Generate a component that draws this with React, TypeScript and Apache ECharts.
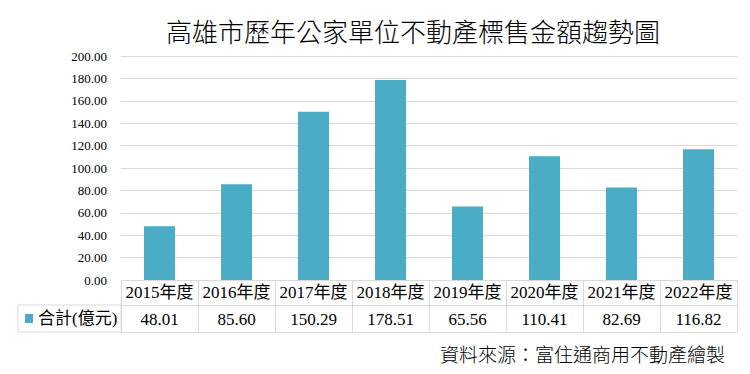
import React, { useEffect, useRef } from "react";
import * as echarts from "echarts";

const title = "高雄市歷年公家單位不動產標售金額趨勢圖";
const source = "資料來源：富住通商用不動產繪製";
const seriesName = "合計(億元)";
const categories = ["2015年度", "2016年度", "2017年度", "2018年度", "2019年度", "2020年度", "2021年度", "2022年度"];
const values = [48.01, 85.6, 150.29, 178.51, 65.56, 110.41, 82.69, 116.82];

const serif = "'Liberation Serif', 'Noto Sans CJK TC', serif";
const cjk = "'Noto Sans CJK TC', sans-serif";
const gridColor = "#d9d9d9";
const barColor = "#4bacc6";

export default function App() {
  const ref = useRef<HTMLDivElement>(null);
  useEffect(() => {
    if (!ref.current) return;
    const chart = echarts.init(ref.current, null, { renderer: "svg" });
    chart.setOption({
      animation: false,
      backgroundColor: "#fff",
      title: [
        {
          text: title,
          left: 408,
          top: 12,
          textAlign: "center",
          textStyle: { fontFamily: cjk, fontSize: 26, fontWeight: 300, color: "#000" },
        },
        {
          text: source,
          right: 20,
          top: 339,
          textStyle: { fontFamily: cjk, fontSize: 19, fontWeight: 300, color: "#000" },
        },
      ],
      legend: {
        left: 25,
        top: 310,
        padding: 0,
        itemWidth: 8,
        itemHeight: 9,
        itemGap: 4,
        icon: "rect",
        data: [seriesName],
        textStyle: { fontFamily: serif, fontSize: 17, color: "#000", padding: [0, 0, 0, 0] },
      },
      grid: { left: 121, right: 13, top: 56, bottom: 94, containLabel: false, outerBoundsMode: "none" },
      xAxis: [
        {
          type: "category",
          data: categories,
          position: "bottom",
          axisLine: { show: true, lineStyle: { color: gridColor, width: 1 } },
          axisTick: { show: true, interval: 0, length: 52, lineStyle: { color: gridColor, width: 1 } },
          axisLabel: { interval: 0, fontFamily: serif, fontSize: 17, color: "#000", margin: 4 },
        },
        {
          type: "category",
          data: values.map((v) => v.toFixed(2)),
          position: "bottom",
          offset: 25,
          axisLine: { show: true, lineStyle: { color: gridColor, width: 1 } },
          axisTick: { show: false },
          axisLabel: { interval: 0, fontFamily: serif, fontSize: 17, color: "#000", margin: 6 },
        },
        {
          type: "category",
          data: categories,
          position: "bottom",
          offset: 52,
          axisLine: { show: true, lineStyle: { color: gridColor, width: 1 } },
          axisTick: { show: false },
          axisLabel: { show: false },
        },
      ],
      yAxis: {
        type: "value",
        min: 0,
        max: 200,
        interval: 20,
        axisLine: { show: false },
        axisTick: { show: false },
        splitLine: { lineStyle: { color: gridColor, width: 1 } },
        axisLabel: {
          fontFamily: serif,
          fontSize: 13,
          color: "#000",
          margin: 14,
          formatter: (v: number) => v.toFixed(2),
        },
      },
      graphic: [
        {
          type: "rect",
          shape: { x: 18, y: 305, width: 103, height: 27 },
          style: { fill: "none", stroke: gridColor, lineWidth: 1 },
          z: 10,
        },
      ],
      series: [
        {
          name: seriesName,
          type: "bar",
          xAxisIndex: 0,
          data: values,
          barWidth: 31,
          itemStyle: { color: barColor },
        },
      ],
    });
    return () => chart.dispose();
  }, []);
  return (
    <div
      ref={ref}
      style={{ position: "absolute", left: 0, top: 0, width: 750, height: 374 }}
    />
  );
}
